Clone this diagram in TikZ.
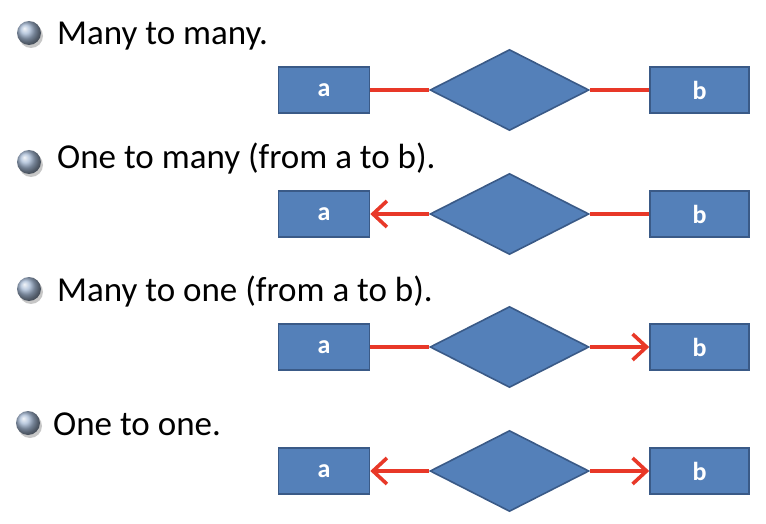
\documentclass[tikz,border=0pt]{standalone}
\usepackage{fontspec}
\setmainfont{Carlito}
\usetikzlibrary{shapes.geometric,arrows.meta}
\definecolor{boxfill}{RGB}{84,128,185}
\definecolor{boxline}{RGB}{58,90,135}
\definecolor{relred}{RGB}{232,56,40}
\tikzset{
  entity/.style={draw=boxline,fill=boxfill,line width=1.6pt,minimum height=46pt,inner sep=0pt,text=white,font=\fontsize{26}{26}\selectfont\bfseries},
  rel/.style={diamond,draw=boxline,fill=boxfill,line width=1.6pt,minimum width=159pt,minimum height=81pt,inner sep=0pt},
  conn/.style={draw=relred,line width=4pt},
  tip/.style={-{Straight Barb[length=14pt,width=26pt,line width=3.6pt]}},
  bullet/.style={circle,inner sep=0pt,minimum size=24pt,shading=ball,ball color={rgb,255:red,165;green,185;blue,212}},
  label/.style={anchor=base west,inner sep=0pt,font=\fontsize{35}{35}\selectfont}
}
\begin{document}
\begin{tikzpicture}[x=1pt,y=-1pt]
\useasboundingbox (0,0) rectangle (766,524);
% bullets and labels
\fill[black!22] (31,36) circle (12pt);
\node[bullet] (b1) at (29,33) {};
\node[label] (t1) at (57,45) {Many to many.};
\fill[black!22] (31,165) circle (12pt);
\node[bullet] (b2) at (29,162) {};
\node[label] (t2) at (57,168) {One to many (from a to b).};
\fill[black!22] (31,292) circle (12pt);
\node[bullet] (b3) at (29,289) {};
\node[label] (t3) at (57,301) {Many to one (from a to b).};
\fill[black!22] (30,426) circle (12pt);
\node[bullet] (b4) at (28,423) {};
\node[label] (t4) at (53,435) {One to one.};
% row 1
\node[entity,minimum width=91pt] (a1) at (324,90) {a};
\node[rel] (r1) at (509.5,90) {};
\node[entity,minimum width=99pt] (e1) at (699.5,90) {b};
\draw[conn] (r1.west) -- (a1.east);
\draw[conn] (r1.east) -- (e1.west);
% row 2
\node[entity,minimum width=91pt] (a2) at (324,214) {a};
\node[rel] (r2) at (509.5,214) {};
\node[entity,minimum width=99pt] (e2) at (699.5,214) {b};
\draw[conn,tip] (r2.west) -- (a2.east);
\draw[conn] (r2.east) -- (e2.west);
% row 3
\node[entity,minimum width=91pt] (a3) at (324,347) {a};
\node[rel] (r3) at (509.5,347) {};
\node[entity,minimum width=99pt] (e3) at (699.5,347) {b};
\draw[conn] (r3.west) -- (a3.east);
\draw[conn,tip] (r3.east) -- (e3.west);
% row 4
\node[entity,minimum width=91pt] (a4) at (324,471) {a};
\node[rel] (r4) at (509.5,471) {};
\node[entity,minimum width=99pt] (e4) at (699.5,471) {b};
\draw[conn,tip] (r4.west) -- (a4.east);
\draw[conn,tip] (r4.east) -- (e4.west);
\end{tikzpicture}
\end{document}
